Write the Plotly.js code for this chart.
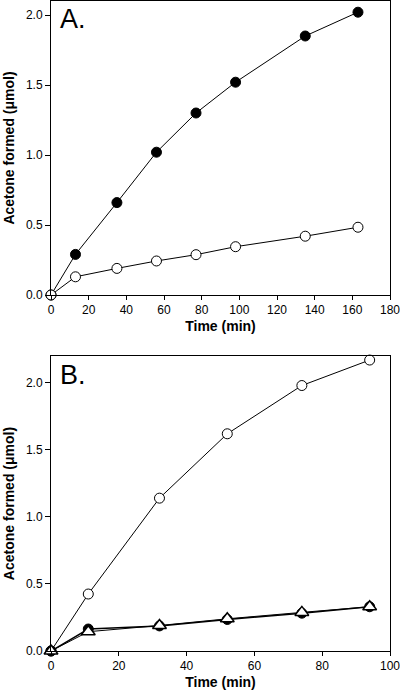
<!DOCTYPE html>
<html>
<head>
<meta charset="utf-8">
<script src="https://cdn.plot.ly/plotly-3.0.1.min.js"></script>
<style>html,body{margin:0;padding:0;background:#fff;}#chart{width:400px;height:692px;}</style>
</head>
<body>
<div id="chart"></div>
<script>
// Panel A
const timeA = [0, 13, 35, 56, 77, 98, 135, 163];
const acetoneA_filled = [0, 0.29, 0.66, 1.02, 1.30, 1.52, 1.85, 2.02];
const acetoneA_open = [0, 0.13, 0.19, 0.243, 0.288, 0.345, 0.42, 0.484];
// Panel B
const timeB = [0, 11, 32, 52, 74, 94];
const acetoneB_open = [0, 0.425, 1.14, 1.62, 1.98, 2.17];
const acetoneB_filled = [0, 0.164, 0.187, 0.235, 0.282, 0.33];
const acetoneB_triangle = [0, 0.144, 0.19, 0.24, 0.288, 0.33];
const xTicksA = [0, 20, 40, 60, 80, 100, 120, 140, 160, 180];
const xTicksB = [0, 20, 40, 60, 80, 100];
const yTicks = [0, 0.5, 1.0, 1.5, 2.0];

const lineStyle = {color: '#000', width: 1};
const filledMarker = {symbol: 'circle', size: 10, color: '#000', line: {color: '#000', width: 1}};
const openMarker = {symbol: 'circle', size: 10, color: '#fff', line: {color: '#000', width: 1}};
const triMarker = {symbol: 'triangle-up', size: 12, color: '#fff', line: {color: '#000', width: 1.5}};

const traces = [
  {x: timeA, y: acetoneA_filled, mode: 'lines+markers', line: lineStyle, marker: filledMarker, xaxis: 'x', yaxis: 'y', cliponaxis: false},
  {x: timeA, y: acetoneA_open, mode: 'lines+markers', line: lineStyle, marker: openMarker, xaxis: 'x', yaxis: 'y', cliponaxis: false},
  {x: timeB, y: acetoneB_open, mode: 'lines+markers', line: lineStyle, marker: openMarker, xaxis: 'x2', yaxis: 'y2', cliponaxis: false},
  {x: timeB, y: acetoneB_filled, mode: 'lines+markers', line: {color: '#000', width: 1.5}, marker: filledMarker, xaxis: 'x2', yaxis: 'y2', cliponaxis: false},
  {x: timeB, y: acetoneB_triangle, mode: 'lines+markers', line: lineStyle, marker: triMarker, xaxis: 'x2', yaxis: 'y2', cliponaxis: false}
];

const tickFont = {family: 'Liberation Sans, Arial, sans-serif', size: 12, color: '#000'};
const titleFont = {family: 'Liberation Sans, Arial, sans-serif', size: 14, color: '#000', weight: 'bold'};

function xAxis(ticks, range, anchor) {
  return {
    range: range, tickvals: ticks, ticktext: ticks.map(String), ticks: 'outside', ticklen: 4, tickwidth: 1, tickcolor: '#000',
    showline: true, linecolor: '#000', linewidth: 1, mirror: true, showgrid: false, zeroline: false,
    tickfont: tickFont, anchor: anchor, ticklabeloverflow: 'allow',
    title: {text: 'Time (min)', font: titleFont, standoff: 4}
  };
}
function yAxis(range, domain, anchor) {
  return {
    range: range, domain: domain, tickvals: yTicks, ticktext: yTicks.map(v => v.toFixed(1)), ticks: 'outside', ticklen: 5, tickwidth: 1, tickcolor: '#000',
    showline: true, linecolor: '#000', linewidth: 1, mirror: true, showgrid: false, zeroline: false,
    tickfont: tickFont, anchor: anchor, ticklabeloverflow: 'allow',
    title: {text: 'Acetone formed (μmol)', font: titleFont, standoff: 7}
  };
}

const layout = {
  width: 400, height: 692,
  margin: {l: 51, r: 10, t: 1, b: 41},
  paper_bgcolor: '#fff', plot_bgcolor: '#fff',
  showlegend: false,
  xaxis: xAxis(xTicksA, [0, 180], 'y'),
  yaxis: yAxis([0, 2.1], [0.5477, 1], 'x'),
  xaxis2: xAxis(xTicksB, [0, 100], 'y2'),
  yaxis2: yAxis([0, 2.2], [0, 0.4538], 'x2'),
  annotations: [
    {text: 'A.', xref: 'x domain', yref: 'y domain', x: 0.02, y: 0.995, xanchor: 'left', yanchor: 'top', showarrow: false,
     font: {family: 'Liberation Sans, Arial, sans-serif', size: 27, color: '#000'}},
    {text: 'B.', xref: 'x2 domain', yref: 'y2 domain', x: 0.02, y: 0.995, xanchor: 'left', yanchor: 'top', showarrow: false,
     font: {family: 'Liberation Sans, Arial, sans-serif', size: 27, color: '#000'}}
  ]
};

Plotly.newPlot('chart', traces, layout, {staticPlot: true, displayModeBar: false});
</script>
</body>
</html>
